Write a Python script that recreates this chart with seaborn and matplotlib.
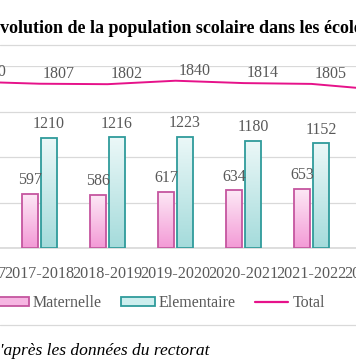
import numpy as np
import pandas as pd
import matplotlib
matplotlib.use("Agg")
import matplotlib.pyplot as plt
import seaborn as sns
from matplotlib.colors import LinearSegmentedColormap
from matplotlib.patches import Patch
from matplotlib.lines import Line2D

# données (les années aux bords sont coupées)
annees = ["2016-2017", "2017-2018", "2018-2019", "2019-2020",
          "2020-2021", "2021-2022", "2022-2023"]
maternelle = [580, 597, 586, 617, 634, 653, 600]
elementaire = [1250, 1210, 1216, 1223, 1180, 1152, 1140]
total = [1830, 1807, 1802, 1840, 1814, 1805, 1740]

gris = "#595959"
rose_bord, vert_bord = "#c5559f", "#2f9b9b"
rose_grad = ("#f39ad6", "#fde9f6")
vert_grad = ("#a4dbdb", "#ecf8f8")
magenta = "#e6128a"

sns.set_theme(style="white")
plt.rcParams["font.family"] = ["Liberation Serif", "DejaVu Serif"]

df = pd.DataFrame({
    "annee": annees * 2,
    "serie": ["Maternelle"] * len(annees) + ["Elementaire"] * len(annees),
    "eleves": maternelle + elementaire,
})

fig = plt.figure(figsize=(3.56, 3.64), dpi=100)
W, H = 356, 364
# axes plus large que l'image : on ne voit qu'une partie du graphique
ax = fig.add_axes([-62.5 / W, (H - 248) / H, 476 / W, 182 / H])

sns.barplot(data=df, x="annee", y="eleves", hue="serie", order=annees,
            hue_order=["Maternelle", "Elementaire"], width=0.55, gap=0.15,
            palette=["#f7c4e8", "#c8eaea"], legend=False, ax=ax, zorder=3)

grad = np.linspace(0, 1, 256).reshape(-1, 1)
for cont, (bas, haut), bord in zip(ax.containers, [rose_grad, vert_grad],
                                  [rose_bord, vert_bord]):
    cmap = LinearSegmentedColormap.from_list("g", [bas, haut])
    for bar in cont:
        x0, w, h = bar.get_x(), bar.get_width(), bar.get_height()
        im = ax.imshow(grad, extent=[x0, x0 + w, 0, h], origin="lower",
                       cmap=cmap, aspect="auto", zorder=2.5)
        im.set_clip_path(bar)
        bar.set_facecolor("none")
        bar.set_edgecolor(bord)
        bar.set_linewidth(1.3)
    ax.bar_label(cont, fmt="%d", padding=4, color=gris, fontsize=11.5)

sns.lineplot(x=np.arange(len(annees)), y=total, color=magenta, lw=1.4,
             ax=ax, zorder=4, legend=False)
for i, v in enumerate(total):
    ax.annotate(str(v), (i, v), xytext=(14, 7), textcoords="offset points",
                ha="center", va="center", color=gris, fontsize=11.5)

ax.set_xlim(-0.5, len(annees) - 0.5)
ax.set_ylim(0, 2002)
ax.set_yticks([0, 500, 1000, 1500, 2000])
ax.grid(axis="y", color="#d9d9d9", lw=0.9, zorder=0)
ax.set_axisbelow(True)
for s in ["top", "left", "right"]:
    ax.spines[s].set_visible(False)
ax.spines["bottom"].set_color("#d9d9d9")
ax.tick_params(axis="y", left=False, labelleft=False)
ax.tick_params(axis="x", bottom=False, pad=7, labelsize=11.6, labelcolor=gris)
ax.set_xlabel("")
ax.set_ylabel("")

fig.text(-12 / W, 1 - 27 / H,
         "Évolution de la population scolaire dans les écoles de la commune",
         ha="left", va="center", fontsize=13, fontweight="bold", color="black")
fig.add_artist(Line2D([0, 1], [1 - 45 / H] * 2, color="#d9d9d9", lw=0.9))
fig.add_artist(Line2D([0, 1], [1 - 325 / H] * 2, color="#d9d9d9", lw=0.9))

handles = [Patch(facecolor="#f6b6e2", edgecolor=rose_bord, lw=1.3),
           Patch(facecolor="#cdeeee", edgecolor=vert_bord, lw=1.3),
           Line2D([], [], color=magenta, lw=1.6)]
fig.legend(handles, ["Maternelle", "Elementaire", "Total"], ncol=3,
           loc="center", bbox_to_anchor=(160 / W, 1 - 303 / H),
           frameon=False, fontsize=11.5, labelcolor=gris, handlelength=2.1,
           handleheight=0.45, handletextpad=0.25, columnspacing=1.2)

fig.text(-9 / W, 1 - 351 / H, "d'après les données du rectorat",
         ha="left", va="center", fontsize=12.6, style="italic", color="black")

fig.savefig("out.png", dpi=100)
